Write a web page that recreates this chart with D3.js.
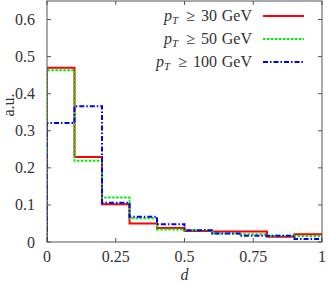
<!DOCTYPE html>
<html><head><meta charset="utf-8">
<script src="https://cdn.jsdelivr.net/npm/d3@7"></script>
<style>body{margin:0;background:#fff}svg{display:block}text{font-family:"Liberation Serif","DejaVu Serif",serif;fill:#333}</style>
</head><body><svg id="c" width="328" height="283"></svg>
<script>
const binEdges = [0,0.1,0.2,0.3,0.4,0.5,0.6,0.7,0.8,0.9,1.0];
const pt30 = [0.470,0.229,0.102,0.050,0.038,0.030,0.028,0.028,0.014,0.021];
const pt50 = [0.463,0.219,0.120,0.064,0.034,0.032,0.023,0.021,0.017,0.016];
const pt100 = [0.321,0.366,0.106,0.068,0.048,0.032,0.023,0.017,0.017,0.008];
const seriesNames = ["30","50","100"];
const xTicks = [0,0.25,0.5,0.75,1];
const xTickLabels = ["0","0.25","0.5","0.75","1"];
const yTicks = [0,0.1,0.2,0.3,0.4,0.5,0.6];
const yTickLabels = ["0","0.1","0.2","0.3","0.4","0.5","0.6"];

const svg = d3.select("#c");
const L=47,R=322,T=1,B=242;
const FS=16;
const x = d3.scaleLinear().domain([0,1]).range([L,R]);
const y = d3.scaleLinear().domain([0,0.65]).range([B,T]);

svg.append("clipPath").attr("id","clip").append("rect").attr("x",L).attr("y",T).attr("width",R-L).attr("height",B-T);

const series = [
  {vals:pt30, color:"#ff0000", dash:null, name:seriesNames[0]},
  {vals:pt50, color:"#00ee00", dash:"2.5,1.5", name:seriesNames[1]},
  {vals:pt100, color:"#0000ff", dash:"5,2,1.5,2", name:seriesNames[2]}
];
const line = d3.line().x(d=>x(d[0])).y(d=>y(d[1]));
function stepPts(vals){
  const p=[[binEdges[0],0]];
  vals.forEach((v,i)=>{p.push([binEdges[i],v]);p.push([binEdges[i+1],v]);});
  p.push([binEdges[binEdges.length-1],0]);
  return p;
}
const g = svg.append("g").attr("clip-path","url(#clip)");
series.forEach(s=>{
  g.append("path").attr("d",line(stepPts(s.vals))).attr("fill","none")
   .attr("stroke",s.color).attr("stroke-width",2).attr("stroke-dasharray",s.dash);
});

// frame
const axisColor="#555";
svg.append("rect").attr("x",L).attr("y",T).attr("width",R-L).attr("height",B-T)
  .attr("fill","none").attr("stroke",axisColor).attr("stroke-width",1);
const tk=4;
xTicks.forEach((t,i)=>{
  svg.append("line").attr("x1",x(t)).attr("x2",x(t)).attr("y1",B).attr("y2",B-tk).attr("stroke",axisColor);
  svg.append("line").attr("x1",x(t)).attr("x2",x(t)).attr("y1",T).attr("y2",T+tk).attr("stroke",axisColor);
  svg.append("text").attr("x",x(t)).attr("y",262).attr("text-anchor","middle").attr("font-size",FS).text(xTickLabels[i]);
});
yTicks.forEach((t,i)=>{
  svg.append("line").attr("x1",L).attr("x2",L+tk).attr("y1",y(t)).attr("y2",y(t)).attr("stroke",axisColor);
  svg.append("line").attr("x1",R).attr("x2",R-tk).attr("y1",y(t)).attr("y2",y(t)).attr("stroke",axisColor);
  svg.append("text").attr("x",35).attr("y",y(t)+5.5).attr("text-anchor","end").attr("font-size",FS).text(yTickLabels[i]);
});
svg.append("text").attr("x",(L+R)/2).attr("y",280).attr("text-anchor","middle").attr("font-size",FS).attr("font-style","italic").text("d");
svg.append("text").attr("transform","translate(14,105) rotate(-90)").attr("text-anchor","middle").attr("font-size",FS).text("a.u.");

// legend
series.forEach((s,i)=>{
  const cy = 16 + i*23;
  const by = cy+5;
  svg.append("text").attr("x",252).attr("y",by).attr("text-anchor","end").attr("font-size",FS).text("GeV");
  const num = svg.append("text").attr("x",217).attr("y",by).attr("text-anchor","end").attr("font-size",FS).text(s.name);
  const nStart = 217 - num.node().getComputedTextLength();
  const geq = svg.append("text").attr("x",nStart-6).attr("y",by).attr("text-anchor","end").attr("font-size",FS).text("\u2265");
  const gStart = nStart-6 - geq.node().getComputedTextLength();
  const pt = svg.append("text").attr("x",gStart-8).attr("y",by).attr("text-anchor","end").attr("font-size",FS);
  pt.append("tspan").attr("font-style","italic").text("p");
  pt.append("tspan").attr("font-style","italic").attr("font-size",11).attr("dy",3).text("T");
  svg.append("line").attr("x1",263).attr("x2",304).attr("y1",cy).attr("y2",cy)
    .attr("stroke",s.color).attr("stroke-width",2).attr("stroke-dasharray",s.dash);
});
</script></body></html>
